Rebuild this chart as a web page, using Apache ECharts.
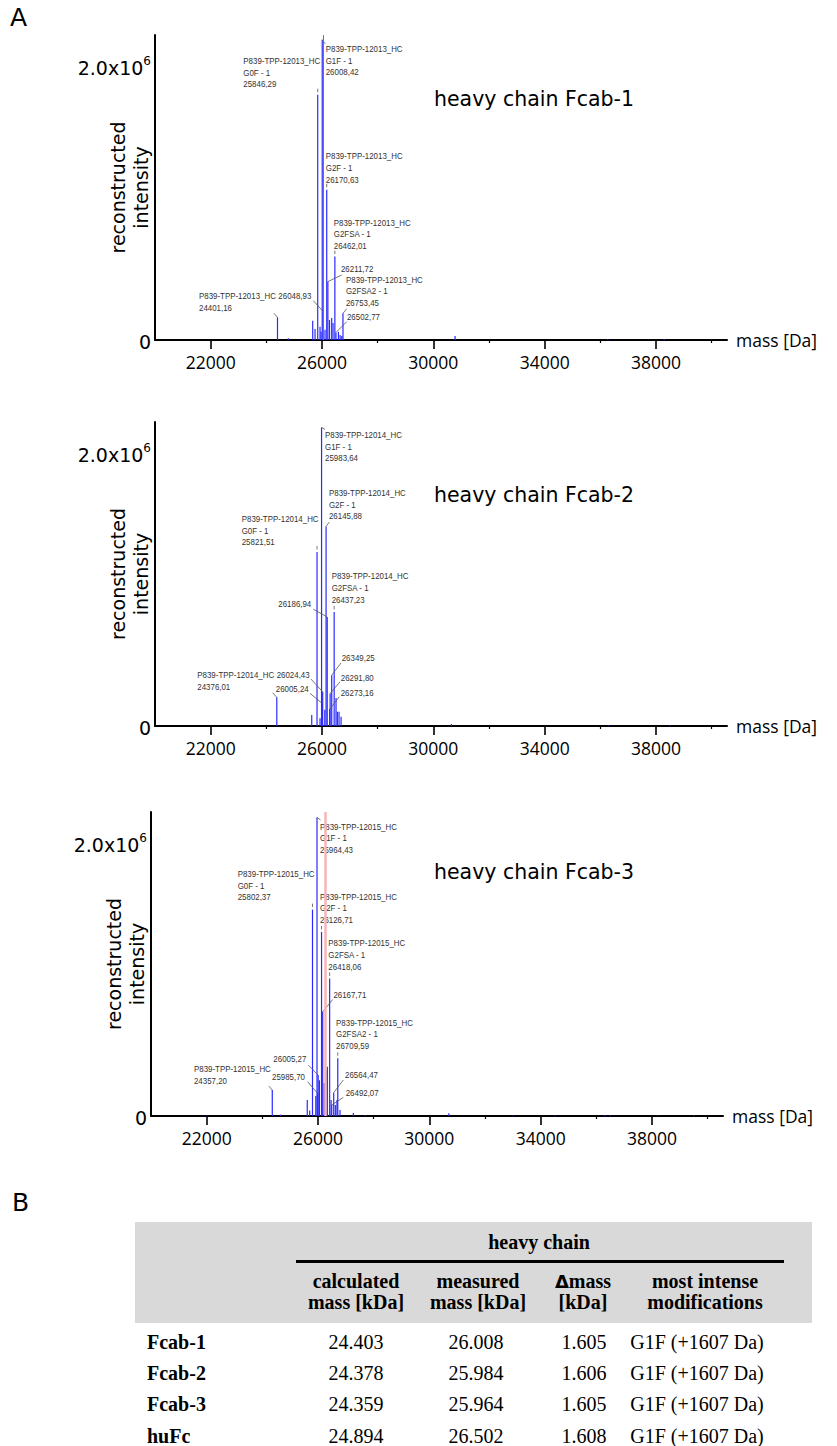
<!DOCTYPE html>
<html><head><meta charset="utf-8">
<script src="https://cdn.jsdelivr.net/npm/echarts@6/dist/echarts.min.js"></script>
<style>
html,body{margin:0;padding:0;background:#fff;}
#chart{position:absolute;left:0;top:0;width:837px;height:1446px;}
#table{position:absolute;left:0;top:0;width:837px;height:1446px;pointer-events:none;}
.cell{position:absolute;font-family:"Liberation Serif","Times New Roman",serif;font-size:20px;color:#000;white-space:nowrap;line-height:20px;height:20px;text-align:center;transform:translate(-50%,-50%);}
.left{text-align:left;transform:translate(0,-50%);}
.bold{font-weight:bold;}
</style></head><body>
<div id="chart"></div>
<div id="table"></div>
<script>
// ---------------- data ----------------
const majorTicks = [22000, 26000, 30000, 34000, 38000];
const minorTicks = [24000, 28000, 32000, 36000, 40000];
const yTicks = [0, 2000000];
const panelTitles = ['heavy chain Fcab-1', 'heavy chain Fcab-2', 'heavy chain Fcab-3'];

// [mass (Da), reconstructed intensity]
const peaks1 = [
  [24401, 166000], [24790, 12000], [25666, 141000], [25750, 80000], [25846, 1793000],
  [25929, 97000], [25965, 60000], [26008, 2195000], [26048, 207000], [26108, 75000],
  [26170, 1098000], [26211, 427000], [26270, 146000], [26348, 161000], [26396, 124000],
  [26462, 610000], [26502, 55000], [26590, 60000], [26650, 37000], [26710, 30000],
  [26753, 195000], [30780, 29000], [36270, 6000], [38300, 5000]
];
const peaks2 = [
  [24376, 210000], [25631, 80000], [25821, 1276000], [25929, 56000], [25984, 2190000],
  [26005, 166000], [26024, 251000], [26100, 120000], [26146, 1464000], [26187, 800000],
  [26273, 122000], [26292, 239000], [26349, 373000], [26437, 837000], [26504, 205000],
  [26552, 105000], [26612, 105000], [26685, 68000], [30650, 15000], [36300, 6000],
  [38500, 5000]
];
const peaks3 = [
  [22000, 4000], [24357, 190000], [24650, 10000], [25614, 117000], [25700, 40000],
  [25802, 1514000], [25920, 146000], [25964, 2190000], [25986, 166000], [26005, 300000],
  [26050, 263000], [26127, 1350000], [26168, 764000], [26225, 241000], [26285, 337000],
  [26335, 361000], [26418, 1009000], [26470, 117000], [26492, 80000], [26564, 171000],
  [26623, 80000], [26681, 117000], [26710, 423000], [26790, 44000], [27270, 22000],
  [27700, 8000], [30700, 20000], [33000, 4000], [34500, 4000], [36300, 8000],
  [36500, 5000], [38200, 4000], [39500, 5000]
];

// annotated peaks: [mass, intensity, label text]
const labels1 = [
  [25846, 1793000, 'P839-TPP-12013_HC\nG0F - 1\n25846,29'],
  [26008, 2195000, 'P839-TPP-12013_HC\nG1F - 1\n26008,42'],
  [26170, 1098000, 'P839-TPP-12013_HC\nG2F - 1\n26170,63'],
  [26462, 610000, 'P839-TPP-12013_HC\nG2FSA - 1\n26462,01'],
  [26211, 427000, '26211,72'],
  [26753, 195000, 'P839-TPP-12013_HC\nG2FSA2 - 1\n26753,45'],
  [26502, 55000, '26502,77'],
  [24401, 166000, 'P839-TPP-12013_HC\n24401,16'],
  [26048, 207000, '26048,93']
];
const labels2 = [
  [25984, 2190000, 'P839-TPP-12014_HC\nG1F - 1\n25983,64'],
  [25821, 1276000, 'P839-TPP-12014_HC\nG0F - 1\n25821,51'],
  [26146, 1464000, 'P839-TPP-12014_HC\nG2F - 1\n26145,88'],
  [26437, 837000, 'P839-TPP-12014_HC\nG2FSA - 1\n26437,23'],
  [26187, 800000, '26186,94'],
  [26349, 373000, '26349,25'],
  [26292, 239000, '26291,80'],
  [26273, 122000, '26273,16'],
  [24376, 210000, 'P839-TPP-12014_HC\n24376,01'],
  [26024, 251000, '26024,43'],
  [26005, 166000, '26005,24']
];
const labels3 = [
  [25964, 2190000, 'P839-TPP-12015_HC\nG1F - 1\n25964,43'],
  [25802, 1514000, 'P839-TPP-12015_HC\nG0F - 1\n25802,37'],
  [26127, 1350000, 'P839-TPP-12015_HC\nG2F - 1\n26126,71'],
  [26418, 1009000, 'P839-TPP-12015_HC\nG2FSA - 1\n26418,06'],
  [26168, 764000, '26167,71'],
  [26710, 423000, 'P839-TPP-12015_HC\nG2FSA2 - 1\n26709,59'],
  [26005, 300000, '26005,27'],
  [25986, 166000, '25985,70'],
  [26564, 171000, '26564,47'],
  [26492, 80000, '26492,07'],
  [24357, 190000, 'P839-TPP-12015_HC\n24357,20']
];
// marker lines (mass)
const markers1 = [26030];
const markers3 = [26270];

// table
const tableRows = ['Fcab-1', 'Fcab-2', 'Fcab-3', 'huFc'];
const calcMass = ['24.403', '24.378', '24.359', '24.894'];
const measMass = ['26.008', '25.984', '25.964', '26.502'];
const deltaMass = ['1.605', '1.606', '1.605', '1.608'];
const modifications = ['G1F (+1607 Da)', 'G1F (+1607 Da)', 'G1F (+1607 Da)', 'G1F (+1607 Da)'];

// ---------------- layout (pixels) ----------------
// label offset from peak top [dx, dy, leaderStartDx, leaderStartDy] (null = short dash)
const layout1 = [
  [-74.4, -40, null], [3.5, 3.2, 3, 4], [-1, -39.8, null], [-1.1, -40.1, null],
  [13.1, -18.7, 13.8, -6.6], [3, -39.8, 3.7, -4.6], [11, -21.6, 10.7, -10.8],
  [-78.5, -27.4, -3.5, -4], [-45, -21.8, -10, -11]
];
const layout2 = [
  [3.5, 1.5, 3.5, 2], [-75.3, -39.2, null], [2.9, -39.5, 3.2, -4.3], [-2.5, -41.8, null],
  [-48.9, -19.1, -13.9, -7.7], [10, -23, 9.3, -12.2], [10.6, -21.4, 9.9, -11.6],
  [11.1, -22.4, 9.7, -12.6], [-79.5, -28.1, -4.1, -4.6], [-46, -22.5, -11.7, -12.7],
  [-46.4, -20.8, -12.1, -10]
];
const layout3 = [
  [3, 3.2, 3.5, 2.5], [-74.8, -41.8, null], [-1.5, -41.5, null], [-1.3, -41.4, null],
  [10.7, -23.2, 10.1, -12.4], [-1.7, -41.8, null], [-44.8, -21.8, -9.8, -10],
  [-45.6, -22.4, -9.9, -11.6], [11.3, -23.5, 9.6, -12.7], [14, -18.5, 11.6, -7.7],
  [-78.3, -27.1, -3.3, -4]
];

const X_MIN = 20000, X_MAX = 40550, Y_MAX = 2230000;
const grids = [
  {left: 155, top: 35, width: 572, height: 305},
  {left: 155, top: 422, width: 572, height: 304},
  {left: 151, top: 812, width: 572, height: 304}
];
const titleTops = [88, 484, 861];
const FONT = 'DejaVu Sans';
const TICKFONT = 'Open Sans';

const peaksAll = [peaks1, peaks2, peaks3];
const labelsAll = [labels1, labels2, labels3];
const layoutAll = [layout1, layout2, layout3];
const markersAll = [markers1, [], markers3];
const markerStyles = [{color: '#ff3b3b', width: 1}, null, {color: '#f7b4b4', width: 2.5}];

function renderPeak(params, api) {
  const m = api.value(0), h = api.value(1);
  const p0 = api.coord([m, 0]), p1 = api.coord([m, h]);
  return {type: 'line', shape: {x1: p0[0], y1: p0[1], x2: p1[0], y2: p1[1]},
          style: {stroke: '#2a2aff', lineWidth: 1.2}};
}
function makeLabelRender(labels, layout) {
  return function (params, api) {
    const i = params.dataIndex;
    const p = api.coord([api.value(0), api.value(1)]);
    const L = layout[i];
    const seg = (L[2] == null) ? [p[0], p[1] - 6, p[0], p[1] - 2.5]
                               : [p[0] + L[2], p[1] + L[3], p[0], p[1]];
    return {type: 'group', children: [
      {type: 'text', x: p[0] + L[0], y: p[1] + L[1], scaleX: 0.85, scaleY: 1,
        style: {text: labels[i][2], x: 0, y: 0,
        fill: '#333', font: '9.3px "Liberation Sans", Arial, sans-serif',
        lineHeight: 11.7, align: 'left', verticalAlign: 'top'}},
      {type: 'line', shape: {x1: seg[0], y1: seg[1], x2: seg[2], y2: seg[3]},
        style: {stroke: '#555', lineWidth: 0.8}}
    ]};
  };
}

const xAxes = [], yAxes = [], series = [];
grids.forEach((g, i) => {
  xAxes.push({
    type: 'value', gridIndex: i, min: X_MIN, max: X_MAX, interval: 2000, position: 'bottom',
    axisLine: {show: true, onZero: false, lineStyle: {color: '#000', width: 2}},
    axisTick: {show: true, customValues: majorTicks, length: 9, lineStyle: {color: '#000', width: 1.6}},
    axisLabel: {show: true, customValues: majorTicks, margin: 13, fontSize: 17.5, fontFamily: TICKFONT,
      color: '#000', formatter: v => String(v)},
    splitLine: {show: false},
    name: 'mass [Da]', nameLocation: 'end', nameGap: 9,
    nameTextStyle: {fontSize: 17.5, fontFamily: TICKFONT, color: '#000'}
  });
});
grids.forEach((g, i) => {
  xAxes.push({
    type: 'value', gridIndex: i, min: X_MIN, max: X_MAX, interval: 2000, position: 'bottom',
    axisLine: {show: false},
    axisTick: {show: true, customValues: minorTicks, length: 3, lineStyle: {color: '#000', width: 1.2}},
    axisLabel: {show: false}, splitLine: {show: false}
  });
  yAxes.push({
    type: 'value', gridIndex: i, min: 0, max: Y_MAX, interval: 2000000,
    axisLine: {show: true, lineStyle: {color: '#000', width: 2}},
    axisTick: {show: false},
    axisLabel: {show: true, customValues: yTicks, margin: 4, color: '#000',
      formatter: v => v === 0 ? '{m|0}' : '{m|2.0x10}{s|6}',
      rich: {m: {fontSize: 19, fontFamily: FONT, color: '#000', lineHeight: 22, verticalAlign: 'bottom'},
             s: {fontSize: 12, fontFamily: FONT, color: '#000', lineHeight: 22, verticalAlign: 'top'}}},
    splitLine: {show: false},
    name: 'reconstructed\nintensity', nameLocation: 'middle', nameRotate: 90, nameGap: 3,
    nameMoveOverlap: false,
    nameTextStyle: {fontSize: 19, fontFamily: FONT, color: '#000', lineHeight: 23}
  });
  if (markersAll[i].length) {
    series.push({
      type: 'line', xAxisIndex: i, yAxisIndex: i, data: [], z: 1, silent: true,
      markLine: {silent: true, symbol: 'none', label: {show: false}, animation: false,
        lineStyle: {color: markerStyles[i].color, width: markerStyles[i].width, type: 'solid'},
        data: markersAll[i].map(m => ({xAxis: m}))}
    });
  }
  series.push({type: 'custom', xAxisIndex: i, yAxisIndex: i, z: 3, silent: true,
    renderItem: renderPeak, data: peaksAll[i]});
  series.push({type: 'custom', xAxisIndex: i, yAxisIndex: i, z: 4, silent: true,
    renderItem: makeLabelRender(labelsAll[i], layoutAll[i]),
    data: labelsAll[i].map(d => [d[0], d[1]])});
});

const titles = [
  {text: 'A', left: 10, top: 5, padding: 0, textStyle: {fontSize: 25, fontWeight: 'normal', fontFamily: FONT, color: '#000'}},
  {text: 'B', left: 12, top: 1190, padding: 0, textStyle: {fontSize: 25, fontWeight: 'normal', fontFamily: FONT, color: '#000'}}
];
panelTitles.forEach((t, i) => titles.push({text: t, left: 434, top: titleTops[i], padding: 0,
  textStyle: {fontSize: 20.5, fontWeight: 'normal', fontFamily: FONT, color: '#000'}}));

const chart = echarts.init(document.getElementById('chart'), null, {renderer: 'svg'});
chart.setOption({
  animation: false, backgroundColor: '#fff',
  title: titles, grid: grids, xAxis: xAxes, yAxis: yAxes, series: series
});

// ---------------- table B ----------------
const tbl = document.getElementById('table');
function box(x, y, w, h, bg) {
  const d = document.createElement('div');
  d.style.cssText = `position:absolute;left:${x}px;top:${y}px;width:${w}px;height:${h}px;background:${bg};`;
  tbl.appendChild(d);
}
function cell(html, x, y, cls) {
  const d = document.createElement('div');
  d.className = 'cell ' + (cls || '');
  d.style.left = x + 'px'; d.style.top = y + 'px';
  d.innerHTML = html;
  tbl.appendChild(d);
}
box(135, 1222, 677, 101, '#d9d9d9');
box(296, 1259.5, 488, 3, '#000');
cell('heavy chain', 539, 1242, 'bold');
const headerCols = [356, 478, 583, 705];
const headerTop = ['calculated', 'measured',
  '<span style="font-family:\'DejaVu Sans\';font-size:18px">&Delta;</span>mass', 'most intense'];
const headerBottom = ['mass [kDa]', 'mass [kDa]', '[kDa]', 'modifications'];
headerTop.forEach((h, i) => cell(h, headerCols[i], 1281, 'bold'));
headerBottom.forEach((h, i) => cell(h, headerCols[i], 1302, 'bold'));
const rowY = [1342, 1373, 1404, 1436];
tableRows.forEach((r, i) => {
  cell(r, 147, rowY[i], 'bold left');
  cell(calcMass[i], 356, rowY[i]);
  cell(measMass[i], 476, rowY[i]);
  cell(deltaMass[i], 584, rowY[i]);
  cell(modifications[i], 697, rowY[i]);
});
</script>
</body></html>
